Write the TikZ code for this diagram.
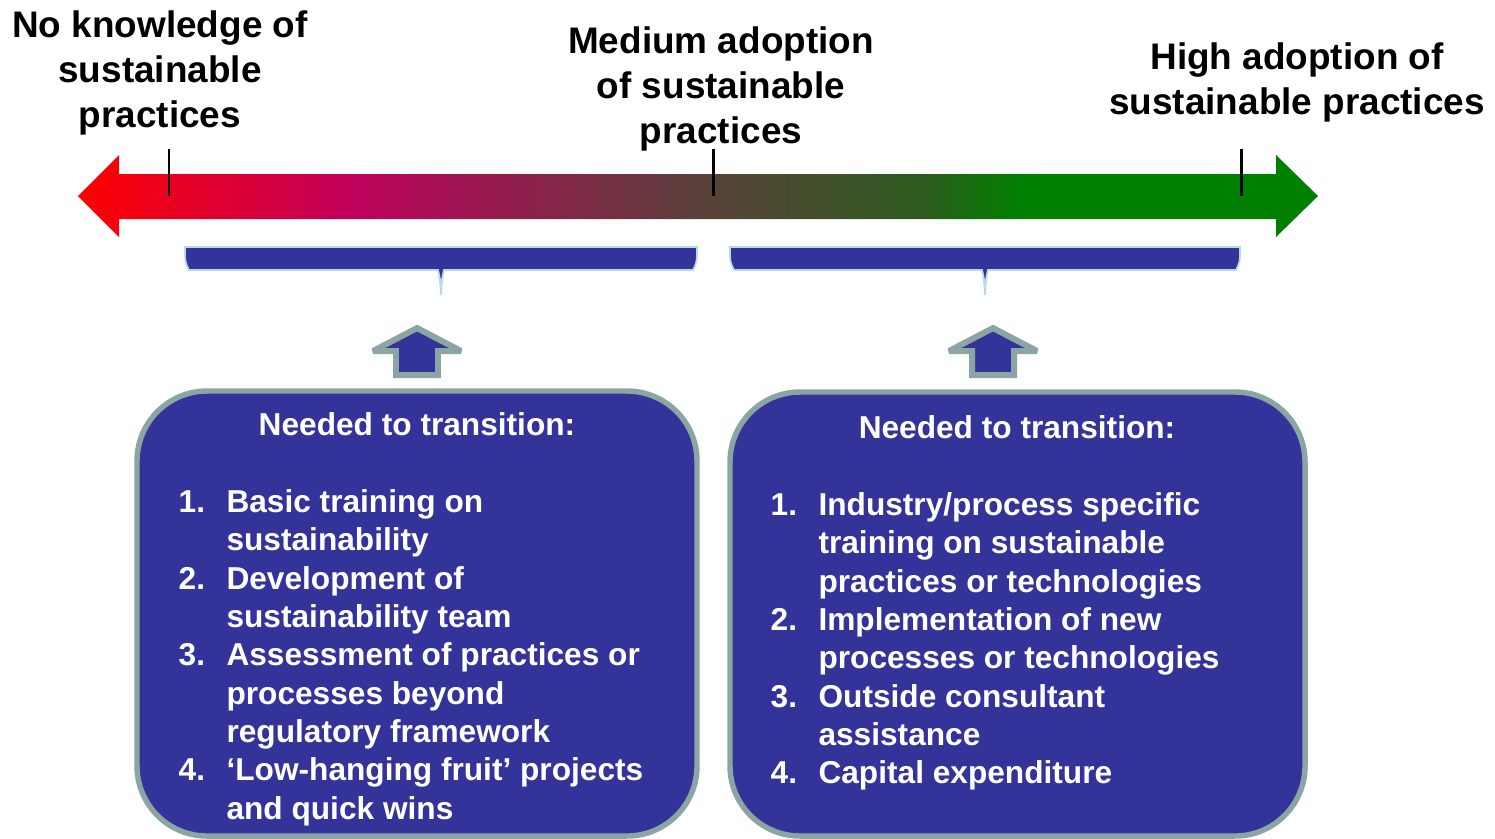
\documentclass[tikz,border=0pt]{standalone}
\usepackage{fontspec}
\setmainfont{Liberation Sans}
\usetikzlibrary{positioning}

\definecolor{boxBlue}{HTML}{333399}
\definecolor{boxRim}{HTML}{8BA5A5}
\definecolor{braceRim}{HTML}{B4DCE0}
\definecolor{scaleMag}{HTML}{C0005C}
\definecolor{scaleMid}{HTML}{5A403A}
\definecolor{scaleDark}{HTML}{2E5A1E}
\definecolor{scaleGreen}{HTML}{008000}

\pgfdeclarehorizontalshading{adoptionScale}{100bp}{color(0bp)=(red); color(25bp)=(red); color(36bp)=(scaleMag); color(50bp)=(scaleMid); color(59bp)=(scaleDark); color(63bp)=(scaleGreen); color(100bp)=(scaleGreen)}

\tikzstyle{stageLabel}=[align=center, inner sep=0pt, font=\fontsize{10.5}{12.8}\selectfont\bfseries]
\tikzstyle{boxTitle}=[inner sep=0pt, text=white, font=\fontsize{9}{10.9}\selectfont\bfseries]
\tikzstyle{listText}=[inner sep=0pt, anchor=north west, text=white, font=\fontsize{9}{10.9}\selectfont\bfseries]
\tikzstyle{stageBox}=[fill=boxBlue, draw=boxRim, line width=1.55pt, rounded corners=19.9pt]
\tikzstyle{upArrow}=[fill=boxBlue, draw=boxRim, line width=1.7pt, line join=miter, miter limit=2]
\tikzstyle{stageBrace}=[fill=boxBlue, draw=braceRim, line width=0.5pt]
\tikzstyle{scaleTick}=[line width=0.85pt]

\begin{document}
\begin{tikzpicture}[x=0.01cm, y=-0.01cm]
		\useasboundingbox (0,0) rectangle (1495,838);

		\shade[shading=adoptionScale] (78,196) -- (119,155) -- (119,174) -- (1276,174) -- (1276,155) -- (1318,196) -- (1276,237) -- (1276,219) -- (119,219) -- (119,237) -- cycle;
		\foreach \t in {169,713,1241}
			\draw[scaleTick] (\t,149) -- (\t,196);

		\node[stageLabel] (noKnowledge) at (160,73) {No knowledge of\\sustainable\\practices};
		\node[stageLabel] (mediumAdoption) at (721,89) {Medium adoption\\of sustainable\\practices};
		\node[stageLabel] (highAdoption) at (1297,82) {High adoption of\\sustainable practices};

		\foreach \a/\b/\c in {185/697/441, 730/1240/985}
			\draw[stageBrace] (\a,247) -- (\b,247) .. controls (\b,262) .. (\b-4,270) -- (\c+3,270) .. controls (\c+1,278) .. (\c,295) .. controls (\c-1,278) .. (\c-3,270) -- (\a+4,270) .. controls (\a,262) .. (\a,247) -- cycle;

		\foreach \c in {417,993}
			\draw[upArrow] (\c,328) -- (\c+44,351) -- (\c+21,351) -- (\c+21,375) -- (\c-21,375) -- (\c-21,351) -- (\c-44,351) -- cycle;

		\draw[stageBox] (137,391) rectangle (697,836);
		\draw[stageBox] (730,392) rectangle (1305,836);

		\node[boxTitle] (leftTitle) at (417,424) {Needed to transition:};
		\node[boxTitle] (rightTitle) at (1017,427) {Needed to transition:};

		\node[listText] (leftList) at (178,485) {\begin{tabular}{@{}p{13.6pt}@{}l@{}}
			1. & Basic training on\\
			& sustainability\\
			2. & Development of\\
			& sustainability team\\
			3. & Assessment of practices or\\
			& processes beyond\\
			& regulatory framework\\
			4. & ‘Low-hanging fruit’ projects\\
			& and quick wins
		\end{tabular}};
		\node[listText] (rightList) at (770,488) {\begin{tabular}{@{}p{13.6pt}@{}l@{}}
			1. & Industry/process specific\\
			& training on sustainable\\
			& practices or technologies\\
			2. & Implementation of new\\
			& processes or technologies\\
			3. & Outside consultant\\
			& assistance\\
			4. & Capital expenditure
		\end{tabular}};
\end{tikzpicture}
\end{document}
